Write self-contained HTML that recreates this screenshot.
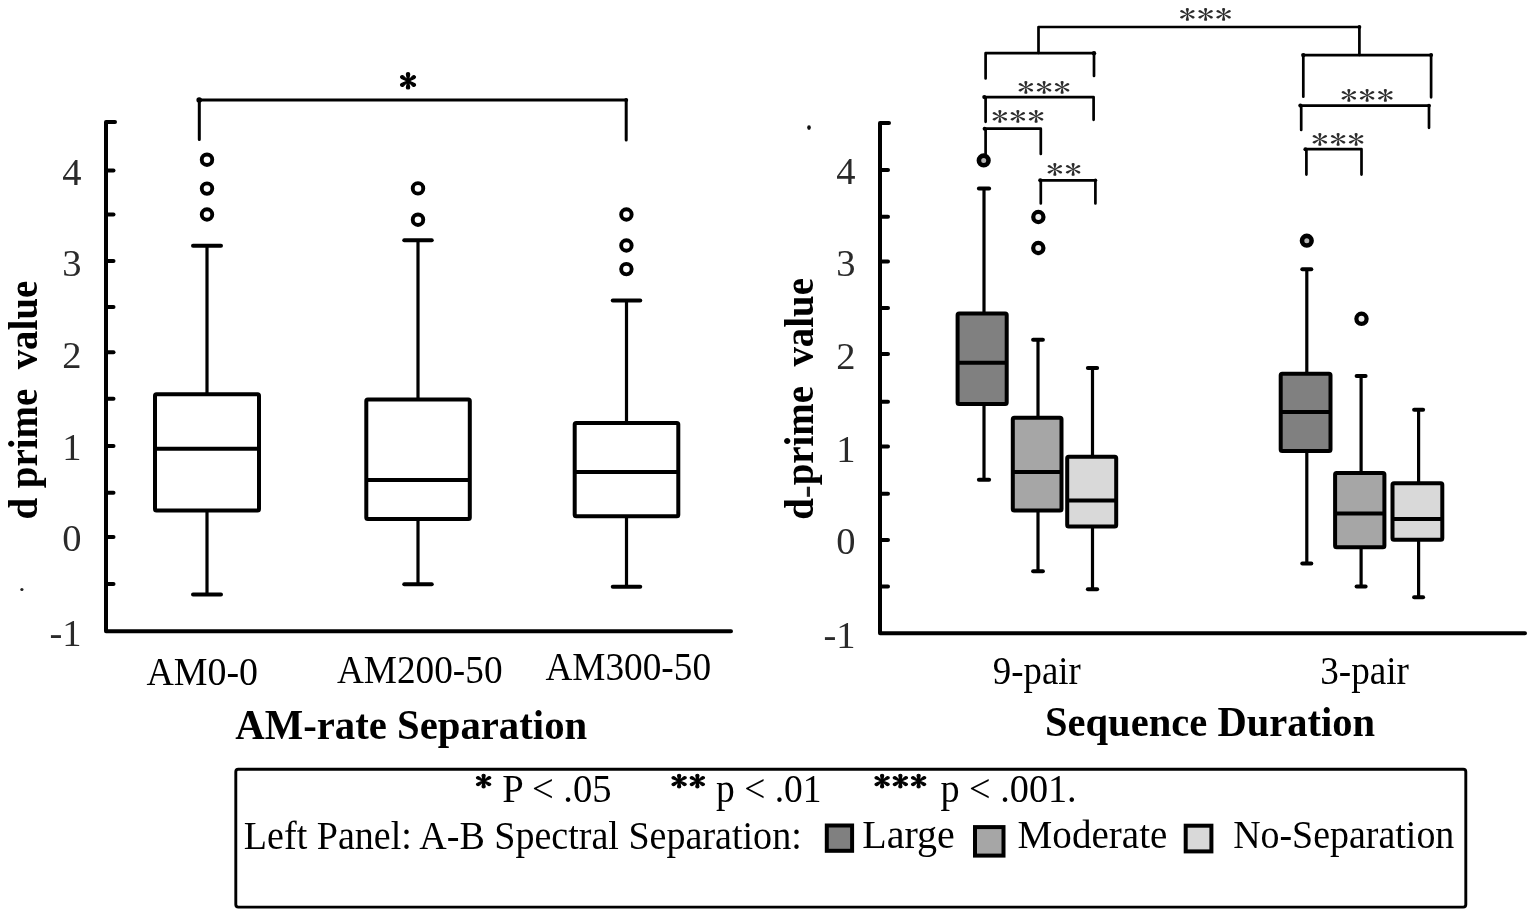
<!DOCTYPE html>
<html><head><meta charset="utf-8"><title>d prime boxplots</title>
<style>
html,body{margin:0;padding:0;background:#fff;}
body{width:1535px;height:914px;overflow:hidden;}
svg{display:block;}
text{font-family:"Liberation Serif","Times New Roman",serif;}
text.ast{font-family:"IPAGothic","Liberation Sans",sans-serif;}
</style></head>
<body>
<svg width="1535" height="914" viewBox="0 0 1535 914">
<rect width="1535" height="914" fill="#fff"/>
<g stroke="#000" fill="none" stroke-linecap="round" stroke-linejoin="round">
<path d="M115 122 H106 V631.2 H731" stroke-width="4"/>
<line x1="106" y1="170.4" x2="113.5" y2="170.4" stroke-width="4"/>
<line x1="106" y1="214.6" x2="113.5" y2="214.6" stroke-width="4"/>
<line x1="106" y1="261.1" x2="113.5" y2="261.1" stroke-width="4"/>
<line x1="106" y1="307" x2="113.5" y2="307" stroke-width="4"/>
<line x1="106" y1="352.3" x2="113.5" y2="352.3" stroke-width="4"/>
<line x1="106" y1="398.7" x2="113.5" y2="398.7" stroke-width="4"/>
<line x1="106" y1="446" x2="113.5" y2="446" stroke-width="4"/>
<line x1="106" y1="492.7" x2="113.5" y2="492.7" stroke-width="4"/>
<line x1="106" y1="537" x2="113.5" y2="537" stroke-width="4"/>
<line x1="106" y1="584.1" x2="113.5" y2="584.1" stroke-width="4"/>
</g>
<text x="81.5" y="184.7" font-size="38.5" text-anchor="end" fill="#2a2a2a">4</text>
<text x="81.5" y="275.6" font-size="38.5" text-anchor="end" fill="#2a2a2a">3</text>
<text x="81.5" y="367.5" font-size="38.5" text-anchor="end" fill="#2a2a2a">2</text>
<text x="81.5" y="460.4" font-size="38.5" text-anchor="end" fill="#2a2a2a">1</text>
<text x="81.5" y="551" font-size="38.5" text-anchor="end" fill="#2a2a2a">0</text>
<text x="81.5" y="645.6" font-size="38.5" text-anchor="end" fill="#2a2a2a">-1</text>
<g stroke="#000">
<line x1="207" y1="245.7" x2="207" y2="394.3" stroke-width="3.2"/>
<line x1="207" y1="510.6" x2="207" y2="594.5" stroke-width="3.2"/>
<line x1="193.0" y1="245.7" x2="221.0" y2="245.7" stroke-width="4" stroke-linecap="round"/>
<line x1="193.0" y1="594.5" x2="221.0" y2="594.5" stroke-width="4" stroke-linecap="round"/>
<rect x="155" y="394.3" width="104.0" height="116.3" fill="#fff" stroke-width="4" rx="1.5"/>
<line x1="155" y1="448.7" x2="259" y2="448.7" stroke-width="4"/>
<circle cx="207" cy="159.7" r="5.25" fill="#fff" stroke-width="3.9"/>
<circle cx="207" cy="188.6" r="5.25" fill="#fff" stroke-width="3.9"/>
<circle cx="207" cy="214.5" r="5.25" fill="#fff" stroke-width="3.9"/>
</g>
<g stroke="#000">
<line x1="418" y1="240.3" x2="418" y2="399.5" stroke-width="3.2"/>
<line x1="418" y1="518.9" x2="418" y2="584.2" stroke-width="3.2"/>
<line x1="404.25" y1="240.3" x2="431.75" y2="240.3" stroke-width="4" stroke-linecap="round"/>
<line x1="404.25" y1="584.2" x2="431.75" y2="584.2" stroke-width="4" stroke-linecap="round"/>
<rect x="366.3" y="399.5" width="103.5" height="119.4" fill="#fff" stroke-width="4" rx="1.5"/>
<line x1="366.3" y1="479.9" x2="469.8" y2="479.9" stroke-width="4"/>
<circle cx="418" cy="188.4" r="5.25" fill="#fff" stroke-width="3.9"/>
<circle cx="418" cy="219.7" r="5.25" fill="#fff" stroke-width="3.9"/>
</g>
<g stroke="#000">
<line x1="626.5" y1="300.5" x2="626.5" y2="423" stroke-width="3.2"/>
<line x1="626.5" y1="516.2" x2="626.5" y2="586.8" stroke-width="3.2"/>
<line x1="612.75" y1="300.5" x2="640.25" y2="300.5" stroke-width="4" stroke-linecap="round"/>
<line x1="612.75" y1="586.8" x2="640.25" y2="586.8" stroke-width="4" stroke-linecap="round"/>
<rect x="574.7" y="423" width="103.6" height="93.2" fill="#fff" stroke-width="4" rx="1.5"/>
<line x1="574.7" y1="472.1" x2="678.3" y2="472.1" stroke-width="4"/>
<circle cx="626.4" cy="214.5" r="5.25" fill="#fff" stroke-width="3.9"/>
<circle cx="626.4" cy="245.5" r="5.25" fill="#fff" stroke-width="3.9"/>
<circle cx="626.4" cy="269.1" r="5.25" fill="#fff" stroke-width="3.9"/>
</g>
<path d="M199.3 139.5 V100 H626.2 V140" stroke="#000" fill="none" stroke-width="3" stroke-linejoin="round" stroke-linecap="round"/>
<circle cx="199.2" cy="100" r="2.8" fill="#000"/><circle cx="626.2" cy="100" r="2" fill="#000"/>
<text class="ast" transform="translate(400.7,72.7) scale(1.099,1)" x="-1.28" y="20.53" font-size="32.08" fill="#000" stroke="#000" stroke-width="1.2">*</text>
<text x="146.40" y="684.6" font-size="39.5" textLength="111.66" lengthAdjust="spacingAndGlyphs" xml:space="preserve">AM0-0</text>
<text x="336.90" y="683.0" font-size="39.5" textLength="165.67" lengthAdjust="spacingAndGlyphs" xml:space="preserve">AM200-50</text>
<text x="545.40" y="680.4" font-size="39.5" textLength="165.67" lengthAdjust="spacingAndGlyphs" xml:space="preserve">AM300-50</text>
<text x="235.30" y="738.7" font-size="42.5" font-weight="bold" textLength="351.86" lengthAdjust="spacingAndGlyphs" xml:space="preserve">AM-rate Separation</text>
<text transform="translate(36.6,517.7) rotate(-90)" x="-1.88" y="0" font-size="41.5" font-weight="bold" textLength="238.89" lengthAdjust="spacingAndGlyphs" xml:space="preserve">d prime  value</text>
<circle cx="21.9" cy="589.5" r="1.6" fill="#222"/>
<g stroke="#000" fill="none" stroke-linecap="round" stroke-linejoin="round">
<path d="M889 123 H880 V633.3 H1525" stroke-width="4"/>
<line x1="880" y1="170.1" x2="888" y2="170.1" stroke-width="4"/>
<line x1="880" y1="216.7" x2="888" y2="216.7" stroke-width="4"/>
<line x1="880" y1="261.4" x2="888" y2="261.4" stroke-width="4"/>
<line x1="880" y1="308.1" x2="888" y2="308.1" stroke-width="4"/>
<line x1="880" y1="354" x2="888" y2="354" stroke-width="4"/>
<line x1="880" y1="401.8" x2="888" y2="401.8" stroke-width="4"/>
<line x1="880" y1="446.4" x2="888" y2="446.4" stroke-width="4"/>
<line x1="880" y1="493.7" x2="888" y2="493.7" stroke-width="4"/>
<line x1="880" y1="540" x2="888" y2="540" stroke-width="4"/>
<line x1="880" y1="586.6" x2="888" y2="586.6" stroke-width="4"/>
</g>
<text x="855.5" y="183.8" font-size="38.5" text-anchor="end" fill="#2a2a2a">4</text>
<text x="855.5" y="275.8" font-size="38.5" text-anchor="end" fill="#2a2a2a">3</text>
<text x="855.5" y="368.5" font-size="38.5" text-anchor="end" fill="#2a2a2a">2</text>
<text x="855.5" y="461.5" font-size="38.5" text-anchor="end" fill="#2a2a2a">1</text>
<text x="855.5" y="554" font-size="38.5" text-anchor="end" fill="#2a2a2a">0</text>
<text x="855.5" y="647.9" font-size="38.5" text-anchor="end" fill="#2a2a2a">-1</text>
<g stroke="#000">
<line x1="984" y1="188.4" x2="984" y2="313.4" stroke-width="3.2"/>
<line x1="984" y1="404" x2="984" y2="479.7" stroke-width="3.2"/>
<line x1="978.9" y1="188.4" x2="989.1" y2="188.4" stroke-width="4" stroke-linecap="round"/>
<line x1="978.9" y1="479.7" x2="989.1" y2="479.7" stroke-width="4" stroke-linecap="round"/>
<rect x="957.6" y="313.4" width="49.1" height="90.6" fill="#808080" stroke-width="4" rx="1.5"/>
<line x1="957.6" y1="362.7" x2="1006.7" y2="362.7" stroke-width="4"/>
<circle cx="983.7" cy="160.4" r="4.8" fill="#b4b4b4" stroke-width="4.6"/>
</g>
<g stroke="#000">
<line x1="1038" y1="339.8" x2="1038" y2="417.7" stroke-width="3.2"/>
<line x1="1038" y1="510.6" x2="1038" y2="571.3" stroke-width="3.2"/>
<line x1="1033.1" y1="339.8" x2="1042.9" y2="339.8" stroke-width="4" stroke-linecap="round"/>
<line x1="1033.1" y1="571.3" x2="1042.9" y2="571.3" stroke-width="4" stroke-linecap="round"/>
<rect x="1012.8" y="417.7" width="48.7" height="92.9" fill="#a6a6a6" stroke-width="4" rx="1.5"/>
<line x1="1012.8" y1="472" x2="1061.5" y2="472" stroke-width="4"/>
<circle cx="1038.35" cy="217.0" r="5.1" fill="#eee" stroke-width="4.25"/>
<circle cx="1038.3" cy="248" r="5.1" fill="#eee" stroke-width="4.25"/>
</g>
<g stroke="#000">
<line x1="1092.5" y1="368.1" x2="1092.5" y2="456.7" stroke-width="3.2"/>
<line x1="1092.5" y1="526.6" x2="1092.5" y2="589.3" stroke-width="3.2"/>
<line x1="1087.85" y1="368.1" x2="1097.15" y2="368.1" stroke-width="4" stroke-linecap="round"/>
<line x1="1087.85" y1="589.3" x2="1097.15" y2="589.3" stroke-width="4" stroke-linecap="round"/>
<rect x="1067.2" y="456.7" width="49.0" height="69.9" fill="#d9d9d9" stroke-width="4" rx="1.5"/>
<line x1="1067.2" y1="500.4" x2="1116.2" y2="500.4" stroke-width="4"/>
</g>
<g stroke="#000">
<line x1="1306.8" y1="269.3" x2="1306.8" y2="373.7" stroke-width="3.2"/>
<line x1="1306.8" y1="451.1" x2="1306.8" y2="563.4" stroke-width="3.2"/>
<line x1="1302.3" y1="269.3" x2="1311.3" y2="269.3" stroke-width="4" stroke-linecap="round"/>
<line x1="1302.3" y1="563.4" x2="1311.3" y2="563.4" stroke-width="4" stroke-linecap="round"/>
<rect x="1280.7" y="373.7" width="49.8" height="77.4" fill="#808080" stroke-width="4" rx="1.5"/>
<line x1="1280.7" y1="412" x2="1330.5" y2="412" stroke-width="4"/>
<circle cx="1306.8" cy="240.7" r="4.8" fill="#b4b4b4" stroke-width="4.6"/>
</g>
<g stroke="#000">
<line x1="1361.1" y1="376" x2="1361.1" y2="473" stroke-width="3.2"/>
<line x1="1361.1" y1="547.3" x2="1361.1" y2="586.4" stroke-width="3.2"/>
<line x1="1356.6" y1="376" x2="1365.6" y2="376" stroke-width="4" stroke-linecap="round"/>
<line x1="1356.6" y1="586.4" x2="1365.6" y2="586.4" stroke-width="4" stroke-linecap="round"/>
<rect x="1335.1" y="473" width="49.3" height="74.3" fill="#a6a6a6" stroke-width="4" rx="1.5"/>
<line x1="1335.1" y1="513.6" x2="1384.4" y2="513.6" stroke-width="4"/>
<circle cx="1361.5" cy="318.8" r="5.1" fill="#eee" stroke-width="4.25"/>
</g>
<g stroke="#000">
<line x1="1418.6" y1="409.7" x2="1418.6" y2="483.2" stroke-width="3.2"/>
<line x1="1418.6" y1="539.7" x2="1418.6" y2="597.2" stroke-width="3.2"/>
<line x1="1414.1" y1="409.7" x2="1423.1" y2="409.7" stroke-width="4" stroke-linecap="round"/>
<line x1="1414.1" y1="597.2" x2="1423.1" y2="597.2" stroke-width="4" stroke-linecap="round"/>
<rect x="1392.5" y="483.2" width="49.8" height="56.5" fill="#d9d9d9" stroke-width="4" rx="1.5"/>
<line x1="1392.5" y1="519" x2="1442.3" y2="519" stroke-width="4"/>
</g>
<g stroke="#000" fill="none" stroke-width="2.7" stroke-linejoin="round" stroke-linecap="round">
<path d="M1038.5 53 V27 H1359.4 V55"/>
<path d="M985.6 78.4 V53.2 H1094 V76"/>
<path d="M985.6 121.8 V97.1 H1093.6 V119.8"/>
<path d="M985.6 154 V128.7 H1040.8 V154"/>
<path d="M1040.8 203.5 V180.3 H1095.4 V203.5"/>
<path d="M1303.3 96.7 V55.1 H1431.1 V97.3"/>
<path d="M1301.2 129.9 V105.6 H1429 V127.8"/>
<path d="M1306.4 174.6 V149.2 H1361.5 V174.6"/>
</g>
<circle cx="1359.4" cy="27" r="1.9" fill="#000"/>
<circle cx="1094" cy="53.2" r="2.2" fill="#000"/>
<circle cx="984.3" cy="97.1" r="2.1" fill="#000"/>
<circle cx="984.6" cy="128.7" r="2.0" fill="#000"/>
<circle cx="1040.3" cy="180.3" r="2.1" fill="#000"/>
<circle cx="1095.4" cy="180.3" r="1.8" fill="#000"/>
<circle cx="1303.3" cy="55.1" r="2.2" fill="#000"/>
<circle cx="1431.1" cy="55.1" r="2.0" fill="#000"/>
<circle cx="1300.4" cy="105.6" r="2.1" fill="#000"/>
<circle cx="1429" cy="105.6" r="1.9" fill="#000"/>
<circle cx="1305.4" cy="149.2" r="2.0" fill="#000"/>
<ellipse cx="809" cy="127.6" rx="1.8" ry="2.3" fill="#111"/>
<text class="ast" transform="translate(1180.1,7.8) scale(1.357,1)" x="-1.02 12.39 25.80" y="16.27" font-size="25.42" fill="#2b2b2b">***</text>
<text class="ast" transform="translate(1018.6,80.3) scale(1.357,1)" x="-1.02 12.39 25.80" y="16.27" font-size="25.42" fill="#2b2b2b">***</text>
<text class="ast" transform="translate(992.5,109.5) scale(1.357,1)" x="-1.02 12.39 25.80" y="16.27" font-size="25.42" fill="#2b2b2b">***</text>
<text class="ast" transform="translate(1047.7,162.5) scale(1.357,1)" x="-1.02 12.39" y="16.27" font-size="25.42" fill="#2b2b2b">**</text>
<text class="ast" transform="translate(1341.7,88.6) scale(1.357,1)" x="-1.02 12.39 25.80" y="16.27" font-size="25.42" fill="#2b2b2b">***</text>
<text class="ast" transform="translate(1312.6,133.0) scale(1.357,1)" x="-1.02 12.39 25.80" y="16.27" font-size="25.42" fill="#2b2b2b">***</text>
<text x="992.87" y="683.8" font-size="39.5" textLength="87.84" lengthAdjust="spacingAndGlyphs" xml:space="preserve">9-pair</text>
<text x="1320.22" y="683.8" font-size="39.5" textLength="88.79" lengthAdjust="spacingAndGlyphs" xml:space="preserve">3-pair</text>
<text x="1044.99" y="736.3" font-size="42.5" font-weight="bold" textLength="330.19" lengthAdjust="spacingAndGlyphs" xml:space="preserve">Sequence Duration</text>
<text transform="translate(812.6,518.0) rotate(-90)" x="-1.87" y="0" font-size="41.5" font-weight="bold" textLength="241.80" lengthAdjust="spacingAndGlyphs" xml:space="preserve">d<tspan font-weight="normal" dy="5.5" fill="#222">-</tspan><tspan dy="-5.5">prime  value</tspan></text>
<rect x="235.8" y="769.3" width="1230" height="137.8" rx="2.5" fill="none" stroke="#000" stroke-width="2.9"/>
<text class="ast" transform="translate(476.6,773.6) scale(1.209,1)" x="-1.11" y="17.73" font-size="27.71" fill="#000" stroke="#000" stroke-width="1.1">*</text>
<text class="ast" transform="translate(672.1,773.6) scale(1.209,1)" x="-1.11 13.95" y="17.73" font-size="27.71" fill="#000" stroke="#000" stroke-width="1.1">**</text>
<text class="ast" transform="translate(875.2,773.6) scale(1.209,1)" x="-1.11 13.95 29.00" y="17.73" font-size="27.71" fill="#000" stroke="#000" stroke-width="1.1">***</text>
<text x="502.22" y="801.6" font-size="39.5" textLength="109.44" lengthAdjust="spacingAndGlyphs" xml:space="preserve">P &lt; .05</text>
<text x="716.05" y="801.6" font-size="39.5" textLength="105.50" lengthAdjust="spacingAndGlyphs" xml:space="preserve">p &lt; .01</text>
<text x="940.43" y="801.6" font-size="39.5" textLength="136.26" lengthAdjust="spacingAndGlyphs" xml:space="preserve">p &lt; .001.</text>
<text x="243.84" y="848.5" font-size="39.5" textLength="557.93" lengthAdjust="spacingAndGlyphs" xml:space="preserve">Left Panel: A-B Spectral Separation:</text>
<text x="862.19" y="848.0" font-size="39.5" textLength="92.62" lengthAdjust="spacingAndGlyphs" xml:space="preserve">Large</text>
<text x="1017.61" y="848.3" font-size="39.5" textLength="149.73" lengthAdjust="spacingAndGlyphs" xml:space="preserve">Moderate</text>
<text x="1233.14" y="848.3" font-size="39.5" textLength="221.21" lengthAdjust="spacingAndGlyphs" xml:space="preserve">No-Separation</text>
<rect x="826.8" y="825.5" width="25.3" height="25.3" fill="#808080" stroke="#000" stroke-width="4"/>
<rect x="975" y="827.1" width="28.5" height="28.5" fill="#a6a6a6" stroke="#000" stroke-width="4"/>
<rect x="1185.7" y="825.7" width="25.7" height="25.7" fill="#d9d9d9" stroke="#000" stroke-width="4"/>
</svg>
</body></html>
